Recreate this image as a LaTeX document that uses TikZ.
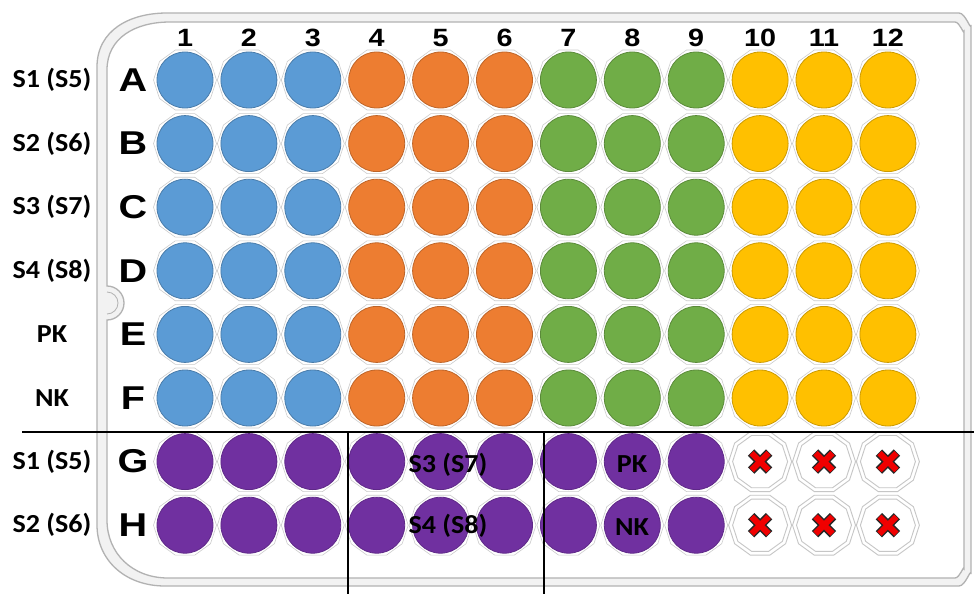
\documentclass[tikz,border=0pt]{standalone}
\usepackage{fontspec}
\setmainfont{Liberation Sans}
\newfontfamily\labfont{Carlito}
\usetikzlibrary{shapes.geometric}
\definecolor{wblue}{HTML}{5B9BD5}
\definecolor{worange}{HTML}{ED7D31}
\definecolor{wgreen}{HTML}{70AD47}
\definecolor{wyellow}{HTML}{FFC000}
\definecolor{wpurple}{HTML}{7030A0}
\definecolor{xred}{HTML}{F00000}
\begin{document}
\begin{tikzpicture}[x=1pt,y=-1pt,
  plate/.style={draw=gray!60,line width=1.3pt},
  band/.style={fill=gray!10,even odd rule},
  wellrim/.style={regular polygon,regular polygon sides=10,minimum size=63pt,inner sep=0pt,draw=gray!40,line width=0.6pt},
  well/.style={circle,minimum size=56pt,inner sep=0pt,line width=0.8pt},
  emptyrim/.style={regular polygon,regular polygon sides=10,minimum size=#1,inner sep=0pt,draw=gray!45,line width=0.9pt},
  rowlab/.style={font=\fontsize{33}{33}\selectfont\bfseries,inner sep=0pt},
  collab/.style={font=\fontsize{25}{25}\selectfont\bfseries,inner sep=0pt},
  samplab/.style={font=\labfont\fontsize{26}{26}\selectfont\bfseries,inner sep=0pt},
  divider/.style={draw=black,line width=2.8pt},
  xmark/.style={line width=#1}]
\useasboundingbox (0,0) rectangle (974,594);
\fill[white] (0,0) rectangle (974,594);
% plate band
\path[band]
 (167,13) -- (959,13) to[out=0,in=-90] (971,25) -- (971,574) to[out=90,in=0] (959,586) -- (165,586)
   .. controls (125,586) and (97,560) .. (97,525) -- (97,67) .. controls (97,30) and (130,13) .. (167,13) -- cycle
 (170,22) -- (955,22) to[out=0,in=-90] (964,31) -- (964,569) to[out=90,in=0] (955,578) -- (168,578)
   .. controls (132,578) and (107,553) .. (107,520) -- (107,320) arc[start angle=90,end angle=-90,radius=17] -- (107,70)
   .. controls (107,38) and (135,22) .. (170,22) -- cycle;
\draw[plate] (167,13) -- (959,13) to[out=0,in=-90] (971,25) -- (971,574) to[out=90,in=0] (959,586) -- (165,586)
   .. controls (125,586) and (97,560) .. (97,525) -- (97,67) .. controls (97,30) and (130,13) .. (167,13) -- cycle;
\draw[plate] (170,22) -- (955,22) to[out=0,in=-90] (964,31) -- (964,569) to[out=90,in=0] (955,578) -- (168,578)
   .. controls (132,578) and (107,553) .. (107,520) -- (107,320) arc[start angle=90,end angle=-90,radius=17] -- (107,70)
   .. controls (107,38) and (135,22) .. (170,22) -- cycle;
\draw[plate,line width=0.8pt] (107,314) arc[start angle=90,end angle=-90,radius=11];
% column numbers
\foreach \c in {1,...,12} {
  \pgfmathsetmacro\x{185+(\c-1)*63.9}
  \node[collab] (col\c) at (\x,38) {\scalebox{1.15}[1]{\c}};
}
% row letters and sample labels
\foreach \r/\s [count=\i] in {A/S1 (S5),B/S2 (S6),C/S3 (S7),D/S4 (S8),E/PK,F/NK,G/S1 (S5),H/S2 (S6)} {
  \pgfmathsetmacro\y{80+(\i-1)*63.6}
  \node[rowlab] (row\r) at (133,\y) {\scalebox{1.2}[1]{\r}};
  \node[samplab] (lab\r) at (52,\y) {\scalebox{1.08}[1]{\s}};
}
% wells A-F
\foreach \r [count=\i] in {A,...,F} {
  \foreach \c/\wc in {1/wblue,2/wblue,3/wblue,4/worange,5/worange,6/worange,7/wgreen,8/wgreen,9/wgreen,10/wyellow,11/wyellow,12/wyellow} {
    \pgfmathsetmacro\x{185+(\c-1)*63.9}
    \pgfmathsetmacro\y{80+(\i-1)*63.6}
    \node[wellrim] (rim-\r\c) at (\x,\y) {};
    \node[well,fill=\wc,draw=\wc!80!black] (w-\r\c) at (\x,\y) {};
  }
}
% wells G-H
\foreach \r [count=\i from 7] in {G,H} {
  \pgfmathsetmacro\y{80+(\i-1)*63.6}
  \foreach \c in {1,...,9} {
    \pgfmathsetmacro\x{185+(\c-1)*63.9}
    \node[wellrim] (rim-\r\c) at (\x,\y) {};
    \node[well,fill=wpurple,draw=wpurple!85!black] (w-\r\c) at (\x,\y) {};
  }
  \foreach \c in {10,11,12} {
    \pgfmathsetmacro\x{185+(\c-1)*63.9}
    \node[emptyrim=63pt] (rim-\r\c) at (\x,\y) {};
    \node[emptyrim=55pt] (w-\r\c) at (\x,\y) {};
    \draw[xmark=9pt,black!85] ([shift={(-9,-9)}]w-\r\c.center) -- ([shift={(9,9)}]w-\r\c.center)
                              ([shift={(-9,9)}]w-\r\c.center) -- ([shift={(9,-9)}]w-\r\c.center);
    \draw[xmark=6pt,xred] ([shift={(-8.5,-8.5)}]w-\r\c.center) -- ([shift={(8.5,8.5)}]w-\r\c.center)
                          ([shift={(-8.5,8.5)}]w-\r\c.center) -- ([shift={(8.5,-8.5)}]w-\r\c.center);
  }
}
% inner labels
\node[samplab] (labS3) at (448,465) {\scalebox{1.08}[1]{S3 (S7)}};
\node[samplab] (labS4) at (448,526) {\scalebox{1.08}[1]{S4 (S8)}};
\node[samplab] (labPK) at (632,464) {\scalebox{1.08}[1]{PK}};
\node[samplab] (labNK) at (632,527) {\scalebox{1.08}[1]{NK}};
% dividers
\coordinate (hl) at (22,432);
\coordinate (hr) at (974,432);
\coordinate (v1t) at (348,432);
\coordinate (v1b) at (348,594);
\coordinate (v2t) at (544,432);
\coordinate (v2b) at (544,594);
\draw[divider] (hl) -- (hr);
\draw[divider] (v1t) -- (v1b);
\draw[divider] (v2t) -- (v2b);
\end{tikzpicture}
\end{document}
